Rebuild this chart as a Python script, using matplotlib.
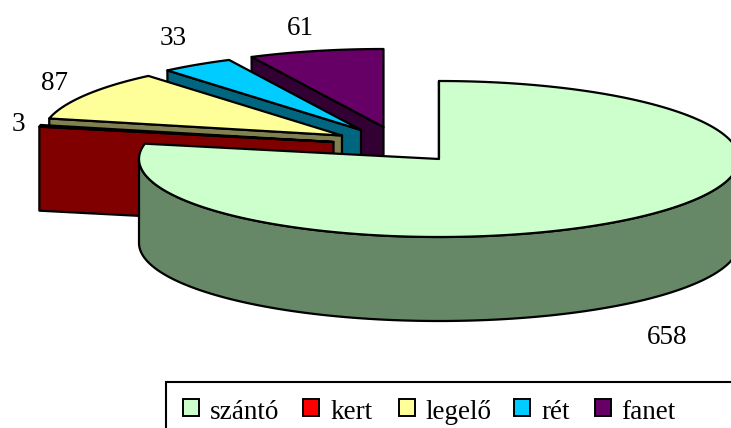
import numpy as np
from matplotlib import pyplot as plt
from matplotlib.patches import Polygon, Rectangle

names = ['szántó', 'kert', 'legelő', 'rét', 'fanet']
values = [658, 3, 87, 33, 61]

top_col = ['#CCFFCC', '#FF0000', '#FFFF99', '#00CCFF', '#660066']
side_col = ['#668866', '#800000', '#808050', '#006680', '#330033']

# pie geometry in pixels
rx = 300
ry = 78
depth = 84
apex = [(439, 159), (333.5, 142), (342, 135.5), (361, 130), (383.5, 127)]
label_pos = [(667, 338), (18, 124), (55, 83), (173, 38), (300, 28)]

legend_box = (166, 382)
legend_sw = [183, 303, 399, 514, 595]
legend_tx = [210, 330, 426, 541, 621]

plt.rcParams['font.family'] = ['Liberation Serif', 'DejaVu Serif']

fig = plt.figure(figsize=(7.31, 4.28), dpi=100)
ax = fig.add_axes([0, 0, 1, 1])
ax.set_xlim(0, 731)
ax.set_ylim(428, 0)
ax.axis('off')

fr = np.cumsum([0] + values) / sum(values) * 2 * np.pi


def rim(c, a, b):
    # angles clockwise from 12 o'clock
    t = np.linspace(a, b, 200)
    return np.column_stack([c[0] + rx * np.sin(t), c[1] - ry * np.cos(t)])


def draw_slice(i, z):
    c = apex[i]
    a, b = fr[i], fr[i + 1]
    kw = dict(edgecolor='black', linewidth=1.6, joinstyle='round', zorder=z)
    # cut face on the near edge of the slice
    e = rim(c, a, a)[0]
    face = [c, e, (e[0], e[1] + depth), (c[0], c[1] + depth)]
    ax.add_patch(Polygon(face, facecolor=side_col[i], **kw))
    # outer wall, only the front half shows
    lo, hi = max(a, np.pi / 2), min(b, 3 * np.pi / 2)
    if hi > lo:
        r = rim(c, lo, hi)
        wall = np.vstack([r, r[::-1] + [0, depth]])
        ax.add_patch(Polygon(wall, facecolor=side_col[i], **kw))
    top = np.vstack([[c], rim(c, a, b)])
    ax.add_patch(Polygon(top, facecolor=top_col[i], **kw))


# back slices first, big one on top
draw_slice(4, 2)
draw_slice(3, 3)
draw_slice(2, 4)
draw_slice(1, 5)
draw_slice(0, 6)

for v, p in zip(values, label_pos):
    ax.text(p[0], p[1], str(v), fontsize=19.5, ha='center', va='center', color='black', zorder=10)

# legend, runs off the right and bottom of the picture
ax.add_patch(Rectangle(legend_box, 700, 100, facecolor='white', edgecolor='black', linewidth=1.5, zorder=7))
for n, c, sx, tx in zip(names, top_col, legend_sw, legend_tx):
    ax.add_patch(Rectangle((sx, 399), 16, 17, facecolor=c, edgecolor='black', linewidth=1.4, zorder=8))
    ax.text(tx, 419, n, fontsize=19.5, ha='left', va='baseline', color='black', zorder=8)

plt.savefig('out.png', dpi=100)
